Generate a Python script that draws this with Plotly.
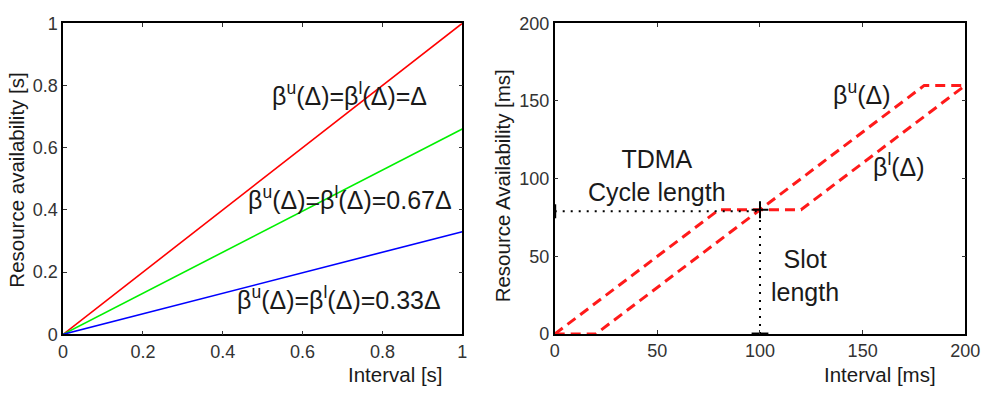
import plotly.graph_objects as go

# ---- data ----
left_x = [0, 1]
red_y = [0, 1.0]
green_y = [0, 0.66]
blue_y = [0, 0.33]

upper_x = [0, 80, 100, 180, 200]
upper_y = [0, 80, 80, 160, 160]
lower_x = [0, 20, 100, 120, 200]
lower_y = [0, 0, 80, 80, 160]

cycle_x = [0, 100]
cycle_y = [79, 79]
slot_x = [100, 100]
slot_y = [0, 79]
cross_pt = (100, 80)

left_ticks = [0, 0.2, 0.4, 0.6, 0.8, 1]
left_ticktext = ["0", "0.2", "0.4", "0.6", "0.8", "1"]
right_ticks = [0, 50, 100, 150, 200]
right_ticktext = ["0", "50", "100", "150", "200"]

FONT = "Liberation Sans, Arial, sans-serif"
TXT = "#1a1a1a"

fig = go.Figure()

for y, c in [(red_y, "#ff0000"), (green_y, "#00f000"), (blue_y, "#0000ff")]:
    fig.add_trace(go.Scatter(x=left_x, y=y, mode="lines", line=dict(color=c, width=1.6),
                             xaxis="x", yaxis="y", showlegend=False, hoverinfo="skip"))

dash = "10px,6px"
fig.add_trace(go.Scatter(x=upper_x, y=upper_y, mode="lines",
                         line=dict(color="#ff1a1a", width=3, dash=dash),
                         xaxis="x2", yaxis="y2", showlegend=False, cliponaxis=False))
fig.add_trace(go.Scatter(x=lower_x, y=lower_y, mode="lines",
                         line=dict(color="#ff1a1a", width=3, dash=dash),
                         xaxis="x2", yaxis="y2", showlegend=False, cliponaxis=False))
fig.add_trace(go.Scatter(x=cycle_x, y=cycle_y, mode="lines",
                         line=dict(color="black", width=2, dash="2px,6px"),
                         xaxis="x2", yaxis="y2", showlegend=False))
fig.add_trace(go.Scatter(x=slot_x, y=slot_y, mode="lines",
                         line=dict(color="black", width=2, dash="2px,6px"),
                         xaxis="x2", yaxis="y2", showlegend=False))
fig.add_trace(go.Scatter(x=[cross_pt[0]], y=[cross_pt[1]], mode="markers",
                         marker=dict(symbol="cross-thin", size=12, line=dict(color="black", width=2)),
                         xaxis="x2", yaxis="y2", showlegend=False, cliponaxis=False))
fig.add_trace(go.Scatter(x=[slot_x[0]], y=[slot_y[0]], mode="markers",
                         marker=dict(symbol="line-ew", size=12, line=dict(color="black", width=3)),
                         xaxis="x2", yaxis="y2", showlegend=False, cliponaxis=False))
fig.add_trace(go.Scatter(x=[cycle_x[0]], y=[cycle_y[0]], mode="markers",
                         marker=dict(symbol="line-ns", size=10, line=dict(color="black", width=3)),
                         xaxis="x2", yaxis="y2", showlegend=False, cliponaxis=False))

axis_common = dict(showgrid=False, zeroline=False, showline=True, linecolor="black", linewidth=1.5,
                   mirror="ticks", ticks="inside", ticklen=4, tickcolor="#333333", tickwidth=1,
                   tickfont=dict(family=FONT, size=18, color="#333333"), fixedrange=True)

fig.update_layout(
    width=995, height=393,
    margin=dict(l=0, r=0, t=0, b=0),
    paper_bgcolor="white", plot_bgcolor="white",
    font=dict(family=FONT, color=TXT),
    xaxis=dict(domain=[0.0596, 0.469], range=[0, 1], tickvals=left_ticks, ticktext=left_ticktext,
               anchor="y", **axis_common),
    yaxis=dict(domain=[0.1305, 0.9644], range=[0, 1], tickvals=left_ticks, ticktext=left_ticktext,
               anchor="x", **axis_common),
    xaxis2=dict(domain=[0.5638, 0.9849], range=[0, 200], tickvals=right_ticks, ticktext=right_ticktext,
                anchor="y2", **axis_common),
    yaxis2=dict(domain=[0.1313, 0.9644], range=[0, 200], tickvals=right_ticks, ticktext=right_ticktext,
                anchor="x2", **axis_common),
)

ann = []
# left-panel labels
for x, y, t in [(0.718, 0.774, "β<sup>u</sup>(Δ)=β<sup>l</sup>(Δ)=Δ"),
                (0.718, 0.437, "β<sup>u</sup>(Δ)=β<sup>l</sup>(Δ)=0.67Δ"),
                (0.69, 0.116, "β<sup>u</sup>(Δ)=β<sup>l</sup>(Δ)=0.33Δ")]:
    ann.append(dict(x=x, y=y, xref="x", yref="y", text=t, showarrow=False, xanchor="center",
                    font=dict(family=FONT, size=25, color=TXT)))
# right-panel labels
for x, y, t in [(50, 102, "TDMA<br>Cycle length"),
                (122, 37.5, "Slot<br>length"),
                (149.5, 155, "β<sup>u</sup>(Δ)"),
                (167.8, 108.7, "β<sup>l</sup>(Δ)")]:
    ann.append(dict(x=x, y=y, xref="x2", yref="y2", text=t, showarrow=False, xanchor="center",
                    font=dict(family=FONT, size=25, color=TXT)))
# axis titles
ann.append(dict(x=399 / 995, y=1 - 384 / 393, xref="paper", yref="paper", text="Interval [s]",
                showarrow=False, xanchor="center", yanchor="middle",
                font=dict(family=FONT, size=20.5, color=TXT)))
ann.append(dict(x=893 / 995, y=1 - 384 / 393, xref="paper", yref="paper", text="Interval [ms]",
                showarrow=False, xanchor="center", yanchor="middle",
                font=dict(family=FONT, size=20.5, color=TXT)))
ann.append(dict(x=12 / 995, y=1 - 179 / 393, xref="paper", yref="paper", text="Resource availability [s]",
                textangle=-90, showarrow=False, xanchor="center", yanchor="middle",
                font=dict(family=FONT, size=20.5, color=TXT)))
ann.append(dict(x=508 / 995, y=1 - 185 / 393, xref="paper", yref="paper", text="Resource Availability [ms]",
                textangle=-90, showarrow=False, xanchor="center", yanchor="middle",
                font=dict(family=FONT, size=20.5, color=TXT)))
fig.update_layout(annotations=ann)

fig.write_html("out.html")
